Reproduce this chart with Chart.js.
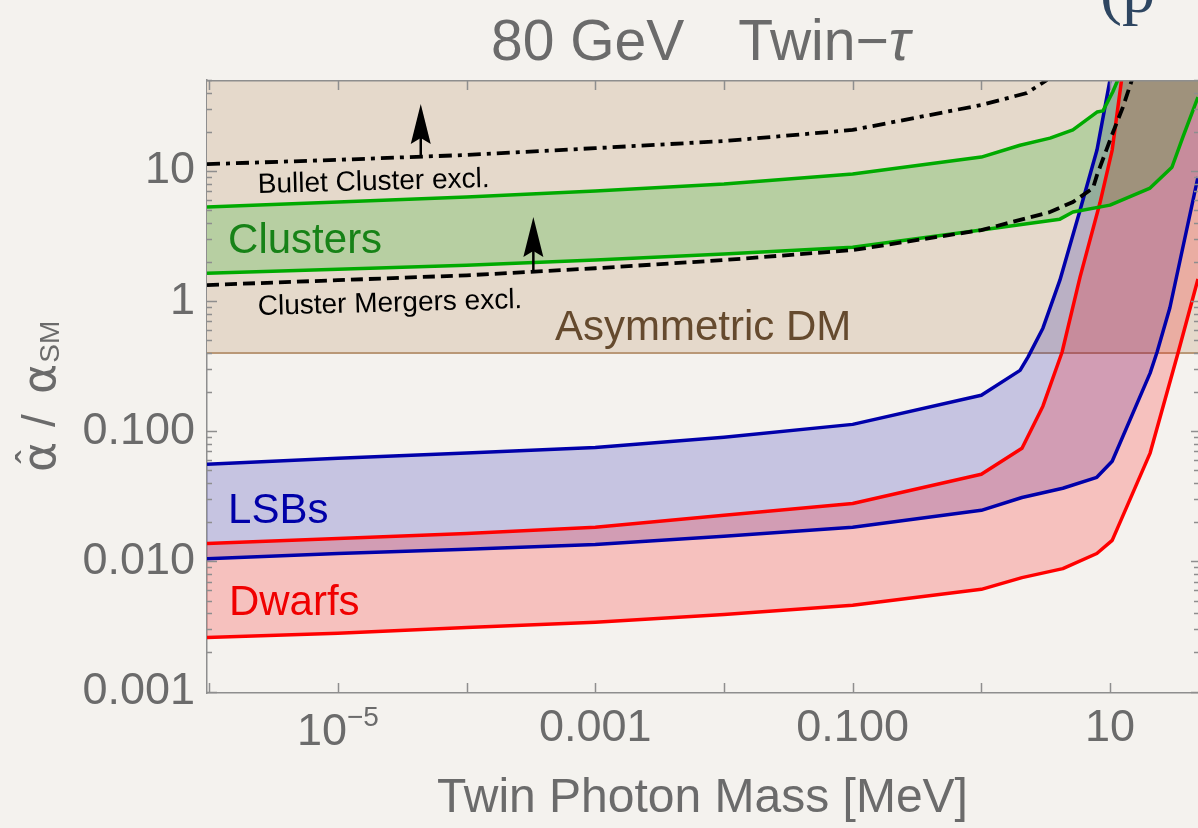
<!DOCTYPE html>
<html>
<head>
<meta charset="utf-8">
<script src="https://cdn.jsdelivr.net/npm/chart.js@4.4.0/dist/chart.umd.min.js"></script>
<style>
  html, body { margin: 0; padding: 0; background: #f4f2ee; overflow: hidden; }
  #wrap { width: 1198px; height: 828px; position: relative; }
</style>
</head>
<body>
<div id="wrap"><canvas id="c"></canvas></div>
<script>
// ---- Limits on alpha-hat / alpha_SM versus twin photon mass [MeV], 80 GeV twin tau ----

// Bullet Cluster exclusion (dash-dot)
const bulletMass  = [9.6e-7, 1e-5, 1e-4, 1e-3, 1e-2, 0.1, 1.0, 2.26, 3.24];
const bulletAlpha = [11.3, 12.2, 13.3, 15.0, 17.0, 20.7, 32.2, 39.8, 50.1];

// Cluster mergers exclusion (dashed)
const mergersMass  = [9.6e-7, 1e-5, 1e-4, 1e-3, 1e-2, 0.1, 1.0, 3.42, 5.15, 7.38, 7.92, 10.5, 12.6, 14.8];
const mergersAlpha = [1.33, 1.45, 1.58, 1.79, 2.07, 2.47, 3.52, 4.84, 5.78, 7.40, 9.3, 19.6, 31.0, 50.1];

// Clusters band
const clustersUpperMass = [9.6e-7, 1e-5, 1e-4, 1e-3, 1e-2, 0.1, 1.0, 2.0, 3.42, 5.15, 7.92, 8.82, 10.5, 11.5];
const clustersUpper     = [5.3, 5.78, 6.31, 7.02, 7.94, 9.49, 12.8, 15.8, 17.9, 20.7, 28.4, 29.0, 40.5, 50.1];
const clustersLowerMass = [9.6e-7, 1e-5, 1e-4, 1e-3, 1e-2, 0.1, 1.0, 4.08, 5.15, 10.0, 20.5, 30.3, 36.9, 48.3];
const clustersLower     = [1.64, 1.76, 1.89, 2.07, 2.30, 2.60, 3.52, 4.27, 4.84, 5.47, 7.40, 10.7, 18.3, 37.0];

// LSBs band
const lsbUpperMass = [9.6e-7, 1e-5, 1e-4, 1e-3, 1e-2, 0.1, 1.0, 2.0, 2.31, 3.01, 4.08, 5.85, 7.92, 10.0];
const lsbUpper     = [0.0557, 0.062, 0.068, 0.075, 0.090, 0.113, 0.189, 0.294, 0.373, 0.62, 1.45, 5.0, 14.5, 50.1];
const lsbLowerMass = [9.6e-7, 1e-5, 1e-4, 1e-3, 1e-2, 0.1, 1.0, 2.07, 4.3, 7.9, 10.4, 20.5, 23.2, 29.2, 48.3];
const lsbLower     = [0.0105, 0.0115, 0.0124, 0.0135, 0.0156, 0.0183, 0.0247, 0.031, 0.0365, 0.0443, 0.0588, 0.28, 0.405, 0.89, 9.0];

// Dwarfs band
const dwarfsUpperMass = [9.6e-7, 1e-5, 1e-4, 1e-3, 1e-2, 0.1, 1.0, 2.07, 3.01, 4.24, 5.85, 8.36, 10.4, 12.3];
const dwarfsUpper     = [0.0137, 0.0150, 0.0164, 0.0183, 0.0226, 0.0279, 0.0467, 0.074, 0.156, 0.405, 1.53, 5.7, 14.5, 50.1];
const dwarfsLowerMass = [9.6e-7, 1e-5, 1e-4, 1e-3, 1e-2, 0.1, 1.0, 2.07, 4.3, 7.9, 10.4, 20.5, 33.9, 48.3];
const dwarfsLower     = [0.0026, 0.0028, 0.0031, 0.0034, 0.0039, 0.0046, 0.0061, 0.0075, 0.0088, 0.0115, 0.0145, 0.068, 0.405, 1.48];

// Asymmetric DM lower bound
const asymmetricDM = 0.4;

// Axis ticks
const xTickValues = [1e-6, 1e-5, 1e-4, 1e-3, 1e-2, 1e-1, 1, 10];
const xTickLabels = ['', '', '', '0.001', '', '0.100', '', '10'];
const yTickValues = [0.001, 0.01, 0.1, 1, 10];
const yTickLabels = ['0.001', '0.010', '0.100', '1', '10'];

// Axis range
const X_MIN = 9.6e-7, X_MAX = 48.3;
const Y_MIN = 0.000974, Y_MAX = 50.1;

// ---- styling ----
const FONT = "'Liberation Sans', Arial, Helvetica, sans-serif";
const GRAY = '#6b6b6b';
const AXIS = '#8e8e8e';
const GREEN = '#00aa00', RED = '#ff0000', BLUE = '#0000aa';

const pts = (xs, ys) => xs.map((x, i) => ({ x, y: ys[i] }));
// closed outline of a band: upper edge, top-right corner of the frame, lower edge back
const band = (ux, uy, lx, ly) => pts(ux, uy).concat([{ x: X_MAX, y: Y_MAX }], pts(lx, ly).reverse());
const logInterp = (xs, ys, x) => {
  for (let i = 1; i < xs.length; i++) {
    if (x <= xs[i]) {
      const t = (Math.log(x) - Math.log(xs[i - 1])) / (Math.log(xs[i]) - Math.log(xs[i - 1]));
      return Math.exp(Math.log(ys[i - 1]) + t * (Math.log(ys[i]) - Math.log(ys[i - 1])));
    }
  }
  return ys[ys.length - 1];
};

const line = (label, xs, ys, color, extra) => Object.assign({
  label, data: pts(xs, ys), borderColor: color, borderWidth: 3.5,
  pointRadius: 0, fill: false, tension: 0, borderJoinStyle: 'round'
}, extra || {});

const area = (label, data, color) => ({
  label, data, borderColor: 'transparent', borderWidth: 0,
  pointRadius: 0, fill: 'shape', backgroundColor: color, tension: 0
});

const datasets = [
  line('Bullet Cluster excl.', bulletMass, bulletAlpha, '#000', { borderWidth: 3.8, borderDash: [13, 6, 4, 6], borderJoinStyle: 'miter' }),
  line('Cluster Mergers excl.', mergersMass, mergersAlpha, '#000', { borderWidth: 3.8, borderDash: [12, 6], borderJoinStyle: 'miter' }),
  line('Clusters upper', clustersUpperMass, clustersUpper, GREEN),
  line('Clusters lower', clustersLowerMass, clustersLower, GREEN),
  line('Dwarfs upper', dwarfsUpperMass, dwarfsUpper, RED),
  line('Dwarfs lower', dwarfsLowerMass, dwarfsLower, RED),
  line('LSBs upper', lsbUpperMass, lsbUpper, BLUE),
  line('LSBs lower', lsbLowerMass, lsbLower, BLUE),
  area('Clusters', band(clustersUpperMass, clustersUpper, clustersLowerMass, clustersLower), 'rgba(0,170,0,0.2)'),
  area('Dwarfs', band(dwarfsUpperMass, dwarfsUpper, dwarfsLowerMass, dwarfsLower), 'rgba(255,0,0,0.2)'),
  area('LSBs', band(lsbUpperMass, lsbUpper, lsbLowerMass, lsbLower), 'rgba(0,0,170,0.19)'),
  {
    label: 'Asymmetric DM',
    data: [{ x: X_MIN, y: asymmetricDM }, { x: X_MAX, y: asymmetricDM }],
    borderColor: '#b99877', borderWidth: 2, pointRadius: 0,
    fill: 'end', backgroundColor: '#e5d9cb'
  }
];

// region names, placed in data coordinates
const regionLabels = [
  { text: 'Clusters', mass: 1.40e-6, alpha: 2.34, color: '#178217', size: 42 },
  { text: 'Asymmetric DM', mass: 4.86e-4, alpha: 0.504, color: '#654a2e', size: 42 },
  { text: 'LSBs', mass: 1.40e-6, alpha: 0.0198, color: '#0000a8', size: 42 },
  { text: 'Dwarfs', mass: 1.42e-6, alpha: 0.0039, color: '#f00000', size: 42 },
  { text: 'Bullet Cluster excl.', mass: 2.39e-6, alpha: 6.78, color: '#000', size: 28, angle: -1.5 },
  { text: 'Cluster Mergers excl.', mass: 2.39e-6, alpha: 0.784, color: '#000', size: 28, angle: -1.5 }
];

// exclusion direction arrows
const arrows = [
  { mass: 4.4e-5, xs: bulletMass, ys: bulletAlpha, tip: 32.8 },
  { mass: 3.3e-4, xs: mergersMass, ys: mergersAlpha, tip: 4.43 }
];

const decorations = {
  id: 'decorations',
  afterDraw(chart) {
    const { ctx, chartArea: a, scales: { x, y } } = chart;
    ctx.save();

    // frame top edge
    ctx.strokeStyle = AXIS;
    ctx.lineWidth = 1.5;
    ctx.beginPath();
    ctx.moveTo(a.left, a.top + 0.75);
    ctx.lineTo(a.right, a.top + 0.75);
    ctx.stroke();

    // inward tick marks
    ctx.beginPath();
    x.ticks.forEach(t => {
      const px = Math.round(x.getPixelForValue(t.value)) + 0.5;
      ctx.moveTo(px, a.bottom); ctx.lineTo(px, a.bottom - 10);
      ctx.moveTo(px, a.top); ctx.lineTo(px, a.top + 10);
    });
    y.ticks.forEach(t => {
      for (let m = 1; m <= 9; m++) {
        const v = t.value * m;
        if (v < Y_MIN || v > Y_MAX) continue;
        const py = Math.round(y.getPixelForValue(v)) + 0.5;
        const len = m === 1 ? 10 : 5;
        ctx.moveTo(a.left, py); ctx.lineTo(a.left + len, py);
        ctx.moveTo(a.right, py); ctx.lineTo(a.right - (m === 1 ? 7 : 4), py);
      }
    });
    ctx.stroke();

    // 10^-5 tick label with superscript
    {
      const px = x.getPixelForValue(1e-5);
      const base = a.bottom + 52;
      ctx.fillStyle = GRAY;
      ctx.textBaseline = 'alphabetic';
      ctx.font = `45px ${FONT}`;
      const w1 = ctx.measureText('10').width;
      ctx.font = `28px ${FONT}`;
      const w2 = ctx.measureText('\u22125').width;
      const sx = px - (w1 + w2) / 2;
      ctx.font = `45px ${FONT}`;
      ctx.textAlign = 'left';
      ctx.fillText('10', sx, base);
      ctx.font = `28px ${FONT}`;
      ctx.fillText('\u22125', sx + w1, base - 19);
    }

    // arrows
    ctx.fillStyle = '#000';
    ctx.strokeStyle = '#000';
    arrows.forEach(ar => {
      const px = x.getPixelForValue(ar.mass);
      const pBase = y.getPixelForValue(logInterp(ar.xs, ar.ys, ar.mass));
      const pTip = y.getPixelForValue(ar.tip);
      ctx.lineWidth = 2.5;
      ctx.beginPath();
      ctx.moveTo(px, pBase);
      ctx.lineTo(px, pTip + 30);
      ctx.stroke();
      ctx.beginPath();
      ctx.moveTo(px, pTip);
      ctx.lineTo(px - 10, pTip + 40);
      ctx.lineTo(px, pTip + 34);
      ctx.lineTo(px + 10, pTip + 40);
      ctx.closePath();
      ctx.fill();
    });

    // region labels
    ctx.textAlign = 'left';
    ctx.textBaseline = 'alphabetic';
    regionLabels.forEach(l => {
      ctx.save();
      ctx.translate(x.getPixelForValue(l.mass), y.getPixelForValue(l.alpha));
      if (l.angle) ctx.rotate(l.angle * Math.PI / 180);
      ctx.font = `${l.size}px ${FONT}`;
      ctx.fillStyle = l.color;
      ctx.fillText(l.text, 0, 0);
      ctx.restore();
    });

    // plot title
    {
      const size = 57;
      ctx.fillStyle = GRAY;
      ctx.font = `${size}px ${FONT}`;
      const p1 = '80 GeV', p2 = 'Twin\u2212';
      const w1 = ctx.measureText(p1).width;
      const w2 = ctx.measureText(p2).width;
      ctx.font = `italic ${size}px ${FONT}`;
      const w3 = ctx.measureText('\u03c4').width;
      const gap = 54;
      let sx = (a.left + a.right) / 2 - (w1 + gap + w2 + w3) / 2 - 2;
      const base = 60;
      ctx.font = `${size}px ${FONT}`;
      ctx.fillText(p1, sx, base);
      sx += w1 + gap;
      ctx.fillText(p2, sx, base);
      sx += w2;
      ctx.font = `italic ${size}px ${FONT}`;
      ctx.fillText('\u03c4', sx, base);
    }

    // y-axis title: alpha-hat / alpha_SM
    {
      ctx.save();
      ctx.translate(55, 472);
      ctx.rotate(-Math.PI / 2);
      ctx.fillStyle = GRAY;
      ctx.font = `46px 'DejaVu Sans', ${FONT}`;
      const wa = ctx.measureText('\u03b1').width;
      ctx.fillText('\u03b1', 0, 0);
      ctx.textAlign = 'center';
      ctx.font = `40px ${FONT}`;
      ctx.fillText('\u02c6', wa / 2, -10);
      ctx.textAlign = 'left';
      ctx.font = `46px ${FONT}`;
      ctx.fillText('/', 45, 0);
      ctx.font = `46px 'DejaVu Sans', ${FONT}`;
      ctx.fillText('\u03b1', 78, 0);
      ctx.font = `28px ${FONT}`;
      ctx.fillText('SM', 78 + wa + 1, 4);
      ctx.restore();
    }

    // corner fragment of the slide heading
    ctx.fillStyle = '#2e4661';
    ctx.font = "66px 'Liberation Serif', 'DejaVu Serif', serif";
    ctx.textAlign = 'left';
    ctx.fillText('(p\u2212', 1100, 12);

    ctx.restore();
  }
};

new Chart(document.getElementById('c'), {
  type: 'line',
  data: { datasets },
  options: {
    responsive: true,
    maintainAspectRatio: false,
    animation: false,
    events: [],
    layout: { padding: { top: 80, right: 0, bottom: 0, left: 0 } },
    plugins: { legend: { display: false }, tooltip: { enabled: false }, title: { display: false } },
    scales: {
      x: {
        type: 'logarithmic', position: 'bottom', min: X_MIN, max: X_MAX,
        afterBuildTicks: s => { s.ticks = xTickValues.map(v => ({ value: v })); },
        afterFit: s => { s.height = 135; },
        grid: { display: false, drawTicks: false },
        border: { display: true, color: AXIS, width: 1.5 },
        ticks: {
          autoSkip: false, maxRotation: 0, minRotation: 0, padding: 9,
          color: GRAY, font: { family: FONT, size: 45 },
          callback: v => { const i = xTickValues.findIndex(t => Math.abs(Math.log10(t) - Math.log10(v)) < 1e-6); return i >= 0 ? xTickLabels[i] : ''; }
        },
        title: {
          display: true, text: 'Twin Photon Mass [MeV]', color: GRAY,
          font: { family: FONT, size: 48 }, padding: { top: 0, bottom: 0 }
        }
      },
      y: {
        type: 'logarithmic', position: 'left', min: Y_MIN, max: Y_MAX,
        afterBuildTicks: s => { s.ticks = yTickValues.map(v => ({ value: v })); },
        afterFit: s => { s.width = 207; },
        grid: { display: false, drawTicks: false },
        border: { display: true, color: AXIS, width: 1.5 },
        ticks: {
          autoSkip: false, padding: 12, color: GRAY, font: { family: FONT, size: 45 },
          callback: v => { const i = yTickValues.findIndex(t => Math.abs(Math.log10(t) - Math.log10(v)) < 1e-6); return i >= 0 ? yTickLabels[i] : ''; }
        }
      }
    }
  },
  plugins: [decorations]
});
</script>
</body>
</html>
